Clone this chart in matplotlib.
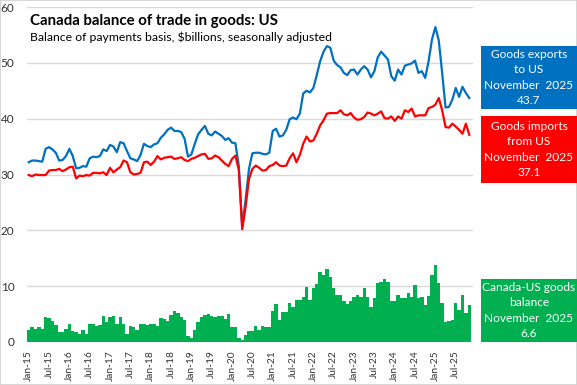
import numpy as np
import pandas as pd
import matplotlib
matplotlib.use("Agg")
import matplotlib.pyplot as plt
from matplotlib.patches import Rectangle

plt.rcParams["font.family"] = ["Lato", "DejaVu Sans"]

# monthly, Jan-2015 .. Nov-2025, $billions
months = pd.date_range("2015-01-01", periods=131, freq="MS")

exports_us = [
    32.2, 32.5, 32.5, 32.4, 32.3, 34.6, 34.9, 34.5, 33.9, 32.5, 32.6, 33.3,
    34.6, 33.3, 31.1, 31.2, 31.5, 31.4, 32.9, 33.2, 33.1, 33.3, 34.5, 34.2,
    35.3, 35.0, 34.0, 35.8, 35.6, 34.2, 32.9, 32.7, 32.4, 33.5, 35.5, 35.1,
    34.9, 35.4, 35.6, 36.6, 37.2, 38.0, 38.4, 37.8, 37.8, 37.6, 36.4, 33.2,
    33.6, 35.5, 37.2, 38.0, 38.7, 37.3, 37.0, 37.7, 37.3, 36.9, 36.2, 36.5,
    35.7, 35.6, 31.5, 20.6, 25.5, 31.0, 33.8, 33.9, 33.9, 33.7, 33.6, 33.9,
    37.8, 38.2, 36.8, 37.0, 38.0, 39.9, 40.2, 39.9, 40.9, 44.5, 45.0, 44.7,
    45.5, 47.8, 50.3, 52.0, 53.0, 52.7, 50.4, 49.6, 49.2, 48.2, 47.8, 48.7,
    48.8, 47.9, 48.8, 49.4, 48.8, 47.4, 48.5, 51.0, 52.0, 51.3, 50.6, 47.6,
    46.8, 48.8, 47.9, 49.5, 49.7, 49.9, 50.4, 48.2, 48.5, 47.3, 50.3, 54.2,
    56.4, 54.0, 48.2, 42.0, 42.1, 43.4, 45.5, 43.9, 45.7, 44.6, 43.7,
]

imports_us = [
    29.9, 29.7, 30.0, 29.9, 29.9, 29.9, 30.7, 30.8, 30.8, 31.0, 30.6, 30.9,
    31.3, 31.4, 29.3, 29.8, 29.7, 29.9, 29.8, 30.3, 30.3, 30.2, 30.4, 29.9,
    31.2, 30.4, 30.9, 31.3, 32.5, 32.2, 30.4, 30.0, 30.1, 30.3, 32.2, 32.3,
    31.7, 32.3, 33.3, 32.7, 33.0, 33.1, 33.2, 32.8, 32.9, 33.1, 32.6, 32.4,
    32.8, 33.0, 33.3, 33.6, 33.7, 32.8, 32.9, 33.4, 33.1, 32.5, 31.9, 31.5,
    32.8, 33.4, 30.8, 20.2, 24.2, 29.2, 31.0, 31.6, 31.2, 30.7, 30.8, 31.5,
    31.7, 32.2, 31.6, 31.5, 31.6, 32.9, 33.8, 32.2, 33.5, 35.5, 36.8, 35.9,
    36.1, 37.3, 38.8, 39.7, 40.9, 41.0, 41.0, 41.0, 41.5, 40.8, 40.6, 41.0,
    40.2, 39.8, 39.9, 40.3, 41.1, 40.9, 40.6, 40.9, 41.3, 40.1, 40.0, 40.4,
    39.6, 40.4, 40.0, 41.5, 41.2, 41.8, 40.4, 40.6, 40.6, 40.6, 41.9, 42.1,
    42.5, 43.7, 41.5, 38.5, 38.4, 39.1, 38.6, 38.0, 37.3, 39.1, 37.1,
]

balance_us = [
    2.1, 2.6, 2.3, 2.7, 2.4, 4.5, 4.3, 3.8, 3.0, 1.8, 1.8, 2.3,
    3.3, 2.0, 1.8, 1.4, 2.1, 1.4, 3.3, 3.2, 2.9, 3.0, 4.6, 3.6,
    4.4, 4.6, 3.3, 4.5, 3.2, 1.5, 2.9, 2.7, 2.1, 3.2, 3.2, 3.0,
    3.3, 3.2, 2.9, 4.3, 4.2, 3.8, 4.8, 5.5, 5.2, 4.5, 3.9, 1.1,
    0.7, 2.1, 3.6, 4.5, 4.8, 5.1, 4.6, 4.5, 4.6, 4.6, 4.2, 5.1,
    2.7, 2.6, 0.7, 0.3, 1.3, 2.0, 1.9, 2.8, 2.2, 2.9, 2.7, 2.6,
    5.6, 6.8, 3.9, 5.4, 5.4, 6.9, 6.3, 7.6, 7.5, 8.1, 9.9, 7.6,
    9.6, 10.4, 12.6, 12.0, 13.0, 11.7, 9.6, 8.4, 8.4, 7.4, 6.8, 7.4,
    8.1, 8.4, 8.1, 9.6, 8.0, 6.3, 7.8, 10.5, 10.8, 11.2, 10.8, 7.4,
    7.4, 8.4, 7.8, 7.8, 8.7, 8.0, 10.2, 7.9, 8.0, 6.6, 8.2, 12.0,
    13.8, 10.5, 7.0, 3.5, 3.8, 3.9, 6.9, 5.7, 8.4, 5.2, 6.6,
]

title = "Canada balance of trade in goods: US"
subtitle = "Balance of payments basis, $billions, seasonally adjusted"
box_texts = [
    "Goods exports\nto US\nNovember  2025\n43.7",
    "Goods imports\nfrom US\nNovember  2025\n37.1",
    "Canada-US goods\nbalance\nNovember  2025\n6.6",
]

blue = "#0070C0"
red = "#FF0000"
green = "#00B050"

W, H = 577, 385
fig = plt.figure(figsize=(W / 100, H / 100), dpi=100)
fig.patches.append(Rectangle((0, 0), 1, 1, transform=fig.transFigure,
                             fill=False, edgecolor="#d0d0d0", lw=1.2))

ax = fig.add_axes([27 / W, 1 - 342 / H, (473 - 27) / W, (342 - 7) / H])
x = np.arange(len(months))
ax.bar(x, balance_us, width=1.0, color=green, zorder=2)
ax.plot(x, exports_us, color=blue, lw=1.6, zorder=3)
ax.plot(x, imports_us, color=red, lw=1.6, zorder=4)

ax.set_ylim(0, 60)
ax.set_xlim(-0.5, 131.1)
ax.set_yticks(range(0, 61, 10))
ax.grid(axis="y", color="#d9d9d9", lw=1.0, zorder=0)
ax.set_axisbelow(True)
for s in ax.spines.values():
    s.set_visible(False)

ticks = x[::6]
ax.set_xticks(ticks)
ax.set_xticklabels([d.strftime("%b-%y") for d in months[::6]], rotation=90)
ax.tick_params(axis="x", length=0, pad=6, labelsize=7.3, labelcolor="#333333")
ax.tick_params(axis="y", length=0, pad=9, labelsize=8.5, labelcolor="#333333")

fig.text(30 / W, 1 - 25 / H, title, fontsize=10.8, fontweight="bold", color="black")
fig.text(30 / W, 1 - 41 / H, subtitle, fontsize=8.8, color="black")

boxes = [(46, 109, blue), (116, 183, red), (279, 342, green)]
for (top, bot, col), txt in zip(boxes, box_texts):
    fig.patches.append(Rectangle((481 / W, 1 - bot / H), (W - 481) / W, (bot - top) / H,
                                 transform=fig.transFigure, facecolor=col,
                                 edgecolor="none"))
    fig.text((481 + W) / 2 / W, 1 - (top + bot) / 2 / H, txt, color="white",
             fontsize=8.6, ha="center", va="center", linespacing=1.45)

fig.savefig("out.png", dpi=100)
